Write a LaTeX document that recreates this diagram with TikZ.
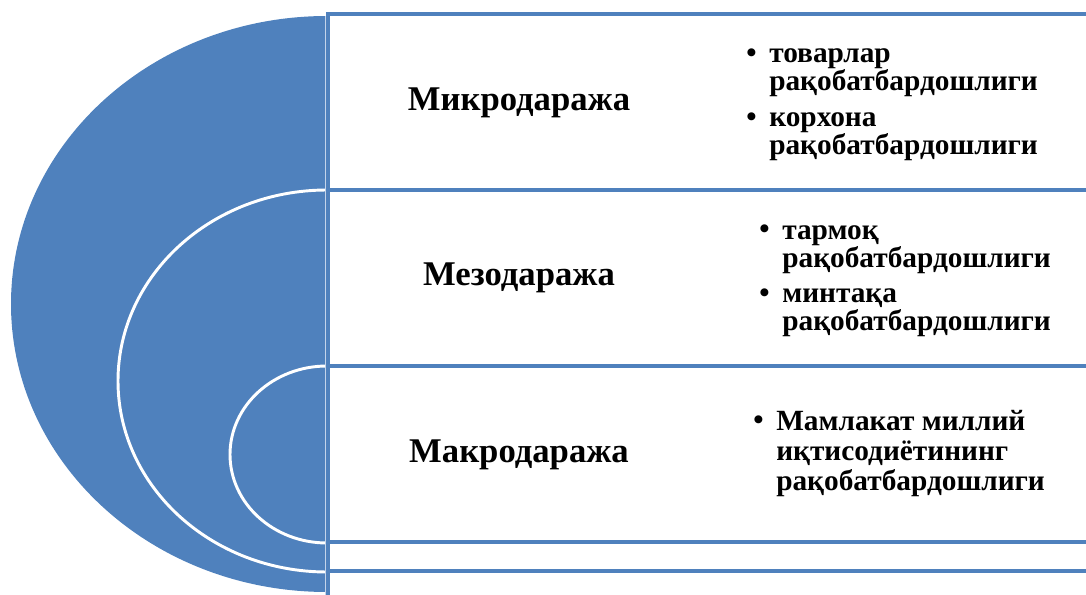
\documentclass[tikz,border=0pt]{standalone}
\usepackage{fontspec}
\setmainfont{Liberation Serif}
\definecolor{tgtblue}{RGB}{79,129,189}
\definecolor{rimline}{RGB}{196,212,234}
\tikzset{
  lvl/.style={font=\bfseries\fontsize{26}{30}\selectfont, inner sep=0.75pt},
  itm/.style={font=\bfseries\fontsize{22}{21}\selectfont, anchor=base west, align=left, inner sep=0.75pt},
  dotmark/.style={font=\bfseries\fontsize{22}{21}\selectfont, anchor=base west, inner sep=0.75pt},
  band/.style={draw=tgtblue, line width=3pt, fill=white},
}

\begin{document}
\begin{tikzpicture}[x=0.75pt,y=0.75pt,yscale=-1,xscale=1]
\useasboundingbox (0,0) rectangle (1086,595);
\clip (0,0) rectangle (1086,595);

%Shape: Half Ellipse (outer target)
\fill [tgtblue] (327,592) arc [start angle=90, end angle=270, x radius=316, y radius=288] -- cycle ;
%Shape: Half Ellipse (middle target)
\draw [white, line width=2.2pt] (327,572) arc [start angle=90, end angle=270, x radius=209, y radius=191] ;
%Shape: Half Ellipse (inner target)
\draw [white, line width=2.2pt] (327,543) arc [start angle=90, end angle=270, x radius=97, y radius=88.5] ;
%Straight Lines
\draw [rimline, line width=0.75pt] (325,16) -- (325,595) ;

%Shape: Rectangle
\draw [band] (328,571) rectangle (1100,620) ;
%Shape: Rectangle
\draw [band] (328,542) rectangle (1100,571) ;
%Shape: Rectangle
\draw [band] (328,366) rectangle (1100,542) ;
%Shape: Rectangle
\draw [band] (328,190) rectangle (1100,366) ;
%Shape: Rectangle
\draw [band] (328,14) rectangle (1100,190) ;

% Text Node
\node [lvl] (micro) at (519,103) {Микродаража};
% Text Node
\node [lvl] (meso) at (519,278) {Мезодаража};
% Text Node
\node [lvl] (macro) at (519,455) {Макродаража};

% Text Node
\node [dotmark] (d1) at (745,63) {•};
\node [itm] (goods) at (768,91) {товарлар\\рақобатбардошлиги};
% Text Node
\node [dotmark] (d2) at (745,127) {•};
\node [itm] (firm) at (768,155) {корхона\\рақобатбардошлиги};
% Text Node
\node [dotmark] (d3) at (758,239) {•};
\node [itm] (branch) at (781,268) {тармоқ\\рақобатбардошлиги};
% Text Node
\node [dotmark] (d4) at (758,303) {•};
\node [itm] (region) at (781,331) {минтақа\\рақобатбардошлиги};
% Text Node
\node [dotmark] (d5) at (752,430) {•};
\node [itm, font=\bfseries\fontsize{22}{22.5}\selectfont] (nation) at (775,490) {Мамлакат миллий\\иқтисодиётининг\\рақобатбардошлиги};

\end{tikzpicture}
\end{document}
